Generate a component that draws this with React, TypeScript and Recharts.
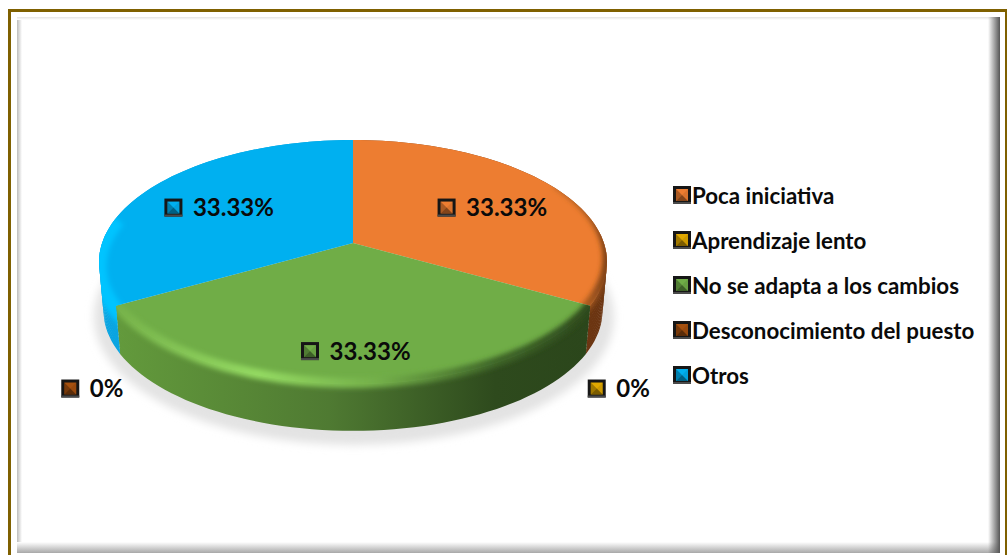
import React from "react";
import { PieChart, Pie, Legend } from "recharts";

const categories = ["Poca iniciativa", "Aprendizaje lento", "No se adapta a los cambios", "Desconocimiento del puesto", "Otros"];
const shares = [33.33, 0, 33.33, 0, 33.33];
const colors = ["#ED7D31", "#E0A800", "#70AD47", "#A5500F", "#00B0F0"];
const walls = [
  [[0, "#8a4a1c"], [1, "#6a3411"]],
  [[0, "#000"], [1, "#000"]],
  [[0, "#639A3C"], [0.45, "#4F7A32"], [0.8, "#2E4A1D"], [1, "#2B461B"]],
  [[0, "#000"], [1, "#000"]],
  [[0, "#0AA5E2"], [1, "#0098D2"]],
];
const bevels = [
  [[0, "#ED7D31"], [0.7, "#E07A30"], [0.92, "#A85A20"], [1, "#7A4016"]],
  [[0, "#000"], [1, "#000"]],
  [[0, "#76B24A"], [0.3, "#94DA62"], [0.55, "#74B04A"], [0.8, "#3F6628"], [1, "#2E4A1D"]],
  [[0, "#000"], [1, "#000"]],
  [[0, "#00C4FF"], [1, "#00BEFF"]],
];
const bevelLift = [-4, 0, -1, 0, 4];
const bevelWidth = [9, 0, 10, 0, 15];
const rows = categories.map((name, i) => ({ name, value: shares[i], fill: colors[i] }));

const RATIO = 122 / 254;
const APEX = 19 / 254;
const DEPTH = 49;
const BASE_SCALE = 0.982;
const BEVEL_FROM = 62;
const BEVEL_TO = 282;
const WALL_STEPS = 12;

const warp = (t: number) => t - 10.4 * Math.sin((t * Math.PI) / 180);
const rimPoint = (cx: number, cy: number, R: number, t: number, k = 1, dy = 0) => {
  const a = (warp(t) * Math.PI) / 180;
  return [cx + R * k * Math.sin(a), cy - R * k * RATIO * Math.cos(a) + dy];
};
const sweep = (cx: number, cy: number, R: number, t0: number, t1: number, dy = 0, k = 1) => {
  const pts: number[][] = [];
  const n = Math.max(2, Math.ceil(Math.abs(t1 - t0) / 2));
  for (let i = 0; i <= n; i++) pts.push(rimPoint(cx, cy, R, t0 + ((t1 - t0) * i) / n, k, dy));
  return pts;
};
const toPath = (pts: number[][]) => pts.map((p, i) => `${i ? "L" : "M"}${p[0].toFixed(1)} ${p[1].toFixed(1)}`).join(" ");

function Stops({ list }: { list: any[] }) {
  return <>{list.map((s, i) => <stop key={i} offset={s[0]} stopColor={s[1]} />)}</>;
}

function Slab(props: any) {
  const { cx, cy, outerRadius: R, startAngle, endAngle, index, fill } = props;
  const t0 = 90 - startAngle;
  const t1 = 90 - endAngle;
  if (Math.abs(t1 - t0) < 0.01) return <g />;
  const rim = sweep(cx, cy, R, t0, t1);
  const apexY = cy - R * APEX;
  const xs = rim.map((p) => p[0]);
  const x1 = Math.min(...xs);
  const x2 = Math.max(...xs);
  const face = `M${cx} ${apexY} ${toPath(rim).replace("M", "L")} Z`;
  const level = (f: number) => sweep(cx, cy, R, t0, t1, DEPTH * f, 1 + (BASE_SCALE - 1) * f);
  const bands = Array.from({ length: WALL_STEPS }, (_, j) => {
    const upper = level(j / WALL_STEPS);
    const lower = level(Math.min(1, (j + 1.3) / WALL_STEPS)).reverse();
    return `${toPath(upper)} ${toPath(lower).replace("M", "L")} Z`;
  });
  const b0 = Math.max(t0 - 8, BEVEL_FROM);
  const b1 = Math.min(t1 + 8, BEVEL_TO);
  return (
    <g>
      <defs>
        <linearGradient id={`wall${index}`} gradientUnits="userSpaceOnUse" x1={x1} x2={x2} y1={0} y2={0}>
          <Stops list={walls[index]} />
        </linearGradient>
        <linearGradient id={`bevel${index}`} gradientUnits="userSpaceOnUse" x1={x1} x2={x2} y1={0} y2={0}>
          <Stops list={bevels[index]} />
        </linearGradient>
        <filter id={`soft${index}`} x="-20%" y="-20%" width="140%" height="140%">
          <feGaussianBlur stdDeviation="2.6" />
        </filter>
        <filter id="ground" x="-10%" y="-10%" width="120%" height="120%">
          <feGaussianBlur stdDeviation="4" />
        </filter>
        <clipPath id={`clip${index}`}>
          {bands.map((d, j) => <path key={j} d={d} />)}
          <path d={face} />
        </clipPath>
      </defs>
      {index === 0 && (
        <ellipse cx={cx + 1} cy={cy + DEPTH + 6} rx={R + 6} ry={R * RATIO + 6} fill="#E3E3E3" filter="url(#ground)" />
      )}
      {bands.map((d, j) => <path key={j} d={d} fill={`url(#wall${index})`} />)}
      <path d={face} fill={fill} />
      <g clipPath={`url(#clip${index})`}>
        <path d={toPath(sweep(cx, cy, R, b0, b1, bevelLift[index]))} fill="none" stroke={`url(#bevel${index})`} strokeWidth={bevelWidth[index]} filter={`url(#soft${index})`} />
      </g>
    </g>
  );
}

function Marker({ x, y, color }: { x: number; y: number; color: string }) {
  const s = 18;
  const b = 3;
  const c = s / 2;
  return (
    <g transform={`translate(${x} ${y})`}>
      <rect width={s} height={s} fill="#161616" />
      <rect y={s - 2} width={s} height={2} fill="#4a4a4a" />
      <rect x={b} y={b} width={s - 2 * b} height={s - 2 * b} fill={color} />
      <path d={`M${b} ${s - b} L${c} ${c} L${s - b} ${s - b} Z`} fill="#000" opacity={0.45} />
      <path d={`M${b} ${b} L${c} ${c} L${b} ${s - b} Z`} fill="#000" opacity={0.28} />
      <path d={`M${s - b} ${b} L${c} ${c} L${s - b} ${s - b} Z`} fill="#000" opacity={0.08} />
    </g>
  );
}

const FONT = "Lato, Carlito, sans-serif";

function SliceLabel(props: any) {
  const { cx, cy, outerRadius: R, midAngle, value, fill } = props;
  const t = 90 - midAngle;
  const text = `${value}%`;
  const empty = value === 0;
  const px = empty ? rimPoint(cx, cy, R, t, 1.11, 78)[0] : rimPoint(cx, cy, R, t, 0.692)[0];
  const py = empty ? rimPoint(cx, cy, R, t, 1.11, 78)[1] : rimPoint(cx, cy, R, t, 0.722, 1)[1];
  const half = empty ? 28.5 : 52;
  return (
    <g>
      <Marker x={px - half} y={py - 9} color={fill} />
      <text x={px - half + 28.5} y={py + 8.5} fontFamily={FONT} fontWeight={700} fontSize={24} fill="#0a0a0a">{text}</text>
    </g>
  );
}

function LegendBox({ payload }: any) {
  return (
    <div style={{ fontFamily: FONT, fontWeight: 700, fontSize: 22.3, color: "#0a0a0a" }}>
      {(payload || []).map((e: any, i: number) => (
        <div key={i} style={{ position: "absolute", left: 0, top: i * 45, height: 26, whiteSpace: "nowrap", display: "flex", alignItems: "center" }}>
          <svg width={19} height={18} style={{ display: "block" }}><Marker x={0} y={0} color={e.color} /></svg>
          <span>{e.value}</span>
        </div>
      ))}
    </div>
  );
}

const strip = (left: number, top: number, width: number, height: number, background: string): React.CSSProperties => ({ position: "absolute", left, top, width, height, background });

export default function App() {
  return (
    <div style={{ position: "fixed", left: 0, top: 0, width: 1007, height: 555, background: "#fff", overflow: "hidden" }}>
      <div style={{ position: "absolute", left: 8, top: 9, width: 994, height: 570, boxSizing: "content-box", border: "3px solid #7F6000" }} />
      <div style={strip(17, 17, 5, 536, "linear-gradient(to right,#bdbdbd,#ffffff)")} />
      <div style={strip(17, 17, 983, 3, "linear-gradient(to bottom,#e4e4e4,#ffffff)")} />
      <div style={strip(17, 542, 983, 11, "linear-gradient(to bottom,#ffffff,#a8a8a8)")} />
      <div style={strip(988, 17, 12, 536, "linear-gradient(to right,rgba(255,255,255,0),#555555)")} />
      <div style={{ position: "absolute", left: 0, top: 0 }}>
        <PieChart width={1007} height={555} margin={{ top: 0, right: 0, bottom: 0, left: 0 }}>
          <Pie
            data={rows}
            dataKey="value"
            nameKey="name"
            cx={353}
            cy={262}
            outerRadius={254}
            startAngle={90}
            endAngle={-270}
            stroke="none"
            isAnimationActive={false}
            labelLine={false}
            label={SliceLabel}
            shape={Slab}
          />
          <Legend itemSorter={null} content={LegendBox} wrapperStyle={{ position: "absolute", left: 673, top: 182, width: 320, height: 230 }} />
        </PieChart>
      </div>
    </div>
  );
}
